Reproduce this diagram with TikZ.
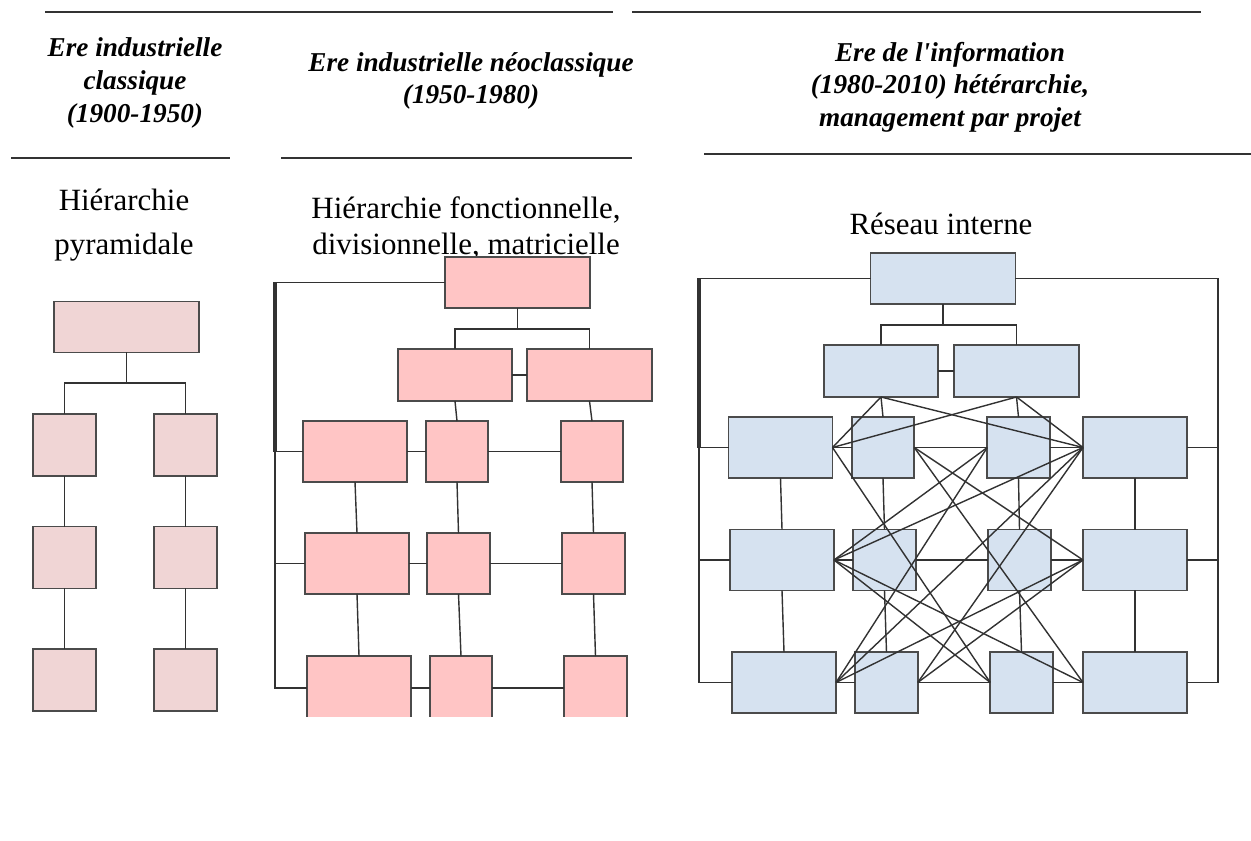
\documentclass[tikz,border=0pt]{standalone}
\usepackage{fontspec}
\setmainfont{Liberation Serif}
\usetikzlibrary{arrows}
\definecolor{edge_gray}{RGB}{50,50,50}
\definecolor{node_gray}{RGB}{75,75,75}
\definecolor{node_pink}{RGB}{240,213,213}
\definecolor{node_red}{RGB}{255,197,197}
\definecolor{node_blue}{RGB}{214,226,240}

\begin{document}
\begin{tikzpicture}[-,x=0.02cm,y=-0.02cm]
    \tikzstyle{box}=[draw=node_gray, rectangle, line width=1pt, inner sep=0pt, outer sep=0pt]
    \tikzstyle{pk}=[style=box, fill=node_pink]
    \tikzstyle{rd}=[style=box, fill=node_red]
    \tikzstyle{bl}=[style=box, fill=node_blue]
    \tikzstyle{chief}=[minimum width=2.9cm, minimum height=1.02cm]
    \tikzstyle{mid}=[minimum height=1.04cm]
    \tikzstyle{sq}=[minimum width=1.26cm, minimum height=1.24cm]
    \tikzstyle{wd}=[minimum width=2.08cm, minimum height=1.22cm]
    \tikzstyle{nr}=[minimum width=1.25cm, minimum height=1.22cm]
    \tikzstyle{ln}=[draw=edge_gray, line width=0.8pt]
    \tikzstyle{rule}=[draw=black!80, line width=0.8pt]
    \tikzstyle{header}=[align=center, inner sep=0pt, font=\fontsize{15.5}{18.6}\selectfont\bfseries\itshape]
    \tikzstyle{caption}=[align=center, inner sep=0pt, font=\fontsize{17.6}{25}\selectfont]

    \useasboundingbox (0,0) rectangle (1251,841);

    % titles
    \draw[rule] (45,12) -- (613,12);
    \draw[rule] (632,12) -- (1201,12);
    \node[header] (h1) at (135,83)  {Ere industrielle\\classique\\(1900-1950)};
    \node[header] (h2) at (471,81)  {Ere industrielle néoclassique\\(1950-1980)};
    \node[header] (h3) at (950,87)  {Ere de l\textquotesingle information\\(1980-2010) hétérarchie,\\management par projet};
    \draw[rule] (11,158) -- (230,158);
    \draw[rule] (281,158) -- (632,158);
    \draw[rule] (704,154) -- (1251,154);
    \node[caption] (c1) at (124,225) {Hiérarchie\\pyramidale};
    \node[caption, font=\fontsize{17.6}{20.5}\selectfont] (c2) at (466,228) {Hiérarchie fonctionnelle,\\divisionnelle, matricielle};
    \node[caption] (c3) at (941,224) {Réseau interne};

    % pyramide
    \node[pk, chief] (lt)  at (126.5,327) {};
    \node[pk, sq]    (l11) at (64.5,445)  {};
    \node[pk, sq]    (l12) at (185.5,445) {};
    \node[pk, sq]    (l21) at (64.5,557.5)  {};
    \node[pk, sq]    (l22) at (185.5,557.5) {};
    \node[pk, sq]    (l31) at (64.5,680)  {};
    \node[pk, sq]    (l32) at (185.5,680) {};
    \coordinate (lj) at (126.5,383);

    \draw[ln] (lt.south) -- (lj);
    \draw[ln] (l11.north) |- (lj) -| (l12.north);
    \path[ln]
     (l11) edge (l21)
     (l21) edge (l31)
     (l12) edge (l22)
     (l22) edge (l32)
     ;

    % matricielle
    \node[rd, chief] (mt) at (517.5,282.5) {};
    \node[rd, mid, minimum width=2.28cm] (ma) at (455,375)   {};
    \node[rd, mid, minimum width=2.5cm]  (mb) at (589.5,375) {};
    \node[rd, wd] (m31) at (355,451.5) {};
    \node[rd, nr] (m32) at (457,451.5) {};
    \node[rd, nr] (m33) at (592,451.5) {};
    \node[rd, wd] (m41) at (357,563.5) {};
    \node[rd, nr] (m42) at (458.5,563.5) {};
    \node[rd, nr] (m43) at (593.5,563.5) {};
    \begin{scope}
      \clip (250,0) rectangle (660,716.5);
      \node[rd, wd, minimum height=1.28cm] (m51) at (359,688)   {};
      \node[rd, nr, minimum height=1.28cm] (m52) at (461,688)   {};
      \node[rd, nr, minimum height=1.28cm] (m53) at (595.5,688) {};
    \end{scope}
    \coordinate (mj)  at (517.5,329);
    \coordinate (mk1) at (275,282.5);
    \coordinate (mk3) at (275,451.5);
    \coordinate (mk4) at (275,563.5);
    \coordinate (mk5) at (275,688);

    \draw[ln] (mt.south) -- (mj);
    \draw[ln] (ma.north) |- (mj) -| (mb.north);
    \draw[ln] (mt.west) -- (mk1) -- (mk5) -- (m51.west);
    \draw[ln, line width=1.8pt] (mk1) -- (mk3);
    \path[ln]
     (ma) edge (mb)
     (ma.south) edge (m32.north)
     (mb.south) edge (m33.north)
     (mk3) edge (m31)
     (mk4) edge (m41)
     (m31) edge (m32) (m32) edge (m33)
     (m41) edge (m42) (m42) edge (m43)
     (m51) edge (m52) (m52) edge (m53)
     (m31.south) edge (m41.north) (m41.south) edge (m51.north)
     (m32.south) edge (m42.north) (m42.south) edge (m52.north)
     (m33.south) edge (m43.north) (m43.south) edge (m53.north)
     ;

    % reseau
    \node[bl, chief] (rt) at (943,278.5) {};
    \node[bl, mid, minimum width=2.28cm] (ra) at (881,371)    {};
    \node[bl, mid, minimum width=2.5cm]  (rb) at (1016.5,371) {};
    \node[bl, wd] (r31) at (780.5,447.5)  {};
    \node[bl, nr] (r32) at (883,447.5)    {};
    \node[bl, nr] (r33) at (1018.5,447.5) {};
    \node[bl, wd] (r34) at (1135,447.5)   {};
    \node[bl, wd] (r41) at (782,560)      {};
    \node[bl, nr] (r42) at (884.5,560)    {};
    \node[bl, nr] (r43) at (1019.5,560)   {};
    \node[bl, wd] (r44) at (1135,560)     {};
    \node[bl, wd] (r51) at (784,682.5)    {};
    \node[bl, nr] (r52) at (886.5,682.5)  {};
    \node[bl, nr] (r53) at (1021.5,682.5) {};
    \node[bl, wd] (r54) at (1135,682.5)   {};
    \coordinate (rj)  at (943,325);
    \coordinate (rk1) at (699,278.5);
    \coordinate (rk3) at (699,447.5);
    \coordinate (rk4) at (699,560);
    \coordinate (rk5) at (699,682.5);
    \coordinate (rq1) at (1218,278.5);
    \coordinate (rq3) at (1218,447.5);
    \coordinate (rq4) at (1218,560);
    \coordinate (rq5) at (1218,682.5);

    \draw[ln] (rt.south) -- (rj);
    \draw[ln] (ra.north) |- (rj) -| (rb.north);
    \draw[ln] (rt.west) -- (rk1) -- (rk5) -- (r51.west);
    \draw[ln] (rt.east) -- (rq1) -- (rq5) -- (r54.east);
    \draw[ln, line width=1.8pt] (rk1) -- (rk3);
    \path[ln]
     (ra) edge (rb)
     (ra.south) edge (r32.north)
     (rb.south) edge (r33.north)
     (rk3) edge (r31) (rk4) edge (r41)
     (r34) edge (rq3) (r44) edge (rq4)
     (r31) edge (r32) (r32) edge (r33) (r33) edge (r34)
     (r41) edge (r42) (r42) edge (r43) (r43) edge (r44)
     (r51) edge (r52) (r52) edge (r53) (r53) edge (r54)
     (r31.south) edge (r41.north) (r41.south) edge (r51.north)
     (r32.south) edge (r42.north) (r42.south) edge (r52.north)
     (r33.south) edge (r43.north) (r43.south) edge (r53.north)
     (r34.south) edge (r44.north) (r44.south) edge (r54.north)
     ;
    \path[ln]
     (ra.south) edge (r31.east) (ra.south) edge (r34.west)
     (rb.south) edge (r31.east) (rb.south) edge (r34.west)
     (r31.east) edge (r53.west)
     (r32.east) edge (r44.west) (r32.east) edge (r54.west)
     (r33.west) edge (r41.east) (r33.west) edge (r51.east)
     (r34.west) edge (r41.east) (r34.west) edge (r51.east)
     (r34.west) edge (r52.east)
     (r41.east) edge (r53.west) (r41.east) edge (r54.west)
     (r44.west) edge (r51.east) (r44.west) edge (r52.east)
     ;
  \end{tikzpicture}
\end{document}
